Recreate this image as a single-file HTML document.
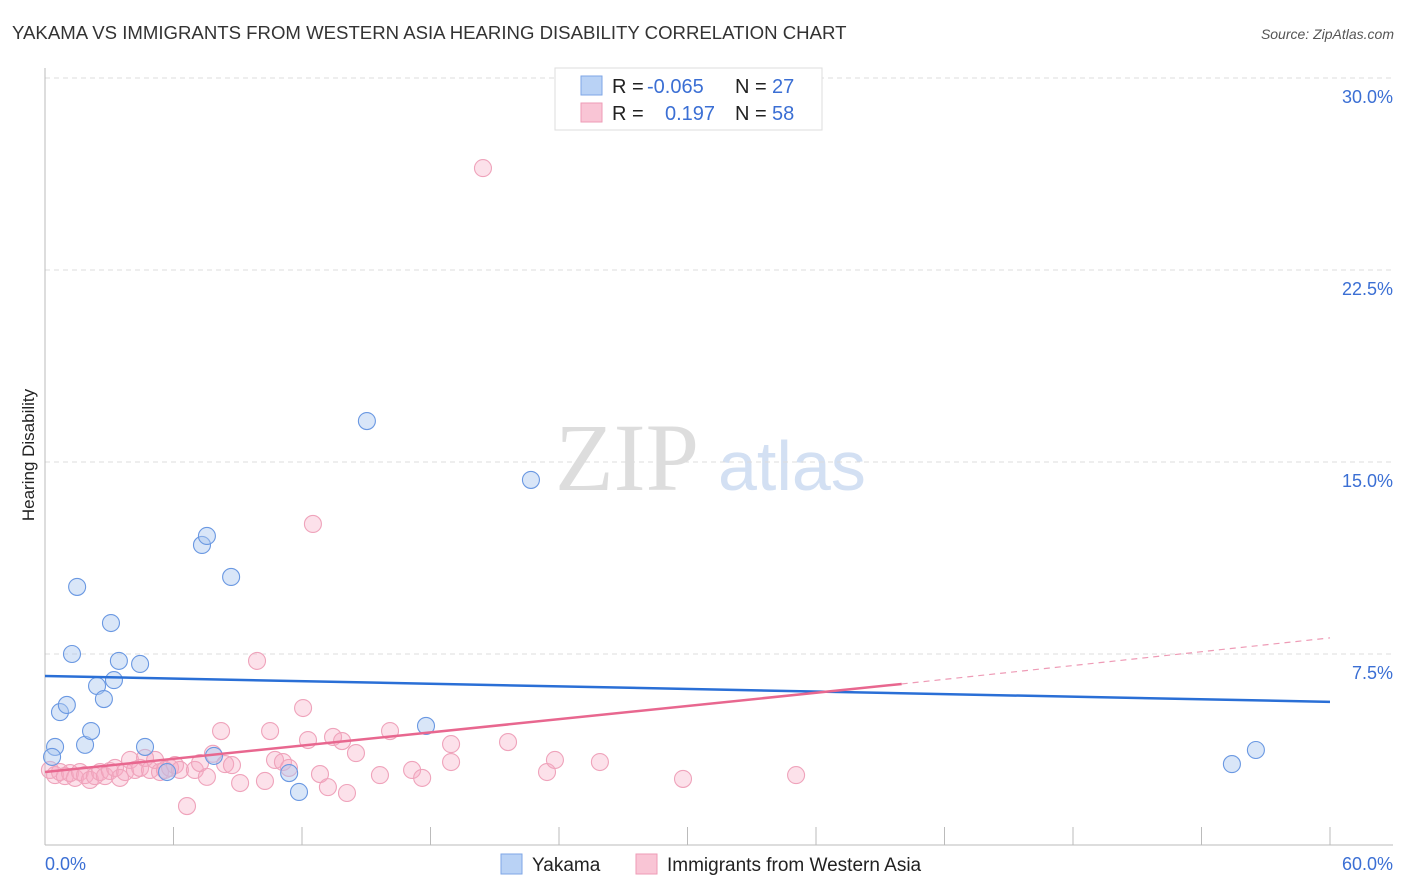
<!DOCTYPE html>
<html><head><meta charset="utf-8"><style>
body{margin:0;background:#fff;font-family:"Liberation Sans",sans-serif}
svg{display:block}
</style></head><body>
<svg id="c" width="1406" height="892">
<text x="12" y="39" font-size="18.6" fill="#333">YAKAMA VS IMMIGRANTS FROM WESTERN ASIA HEARING DISABILITY CORRELATION CHART</text>
<text x="1394" y="39" font-size="14" fill="#555" font-style="italic" text-anchor="end">Source: ZipAtlas.com</text>
<text x="34" y="455" font-size="17" fill="#222" text-anchor="middle" transform="rotate(-90 34 455)">Hearing Disability</text>
<text x="555" y="490" font-size="96" fill="#ddd" font-family="Liberation Serif,serif">ZIP</text>
<text x="718" y="490" font-size="70" fill="#d3e0f3">atlas</text>
<g id="grid"></g><g id="marks"></g>
<g>
<rect x="555" y="68" width="267" height="62" fill="#fff" stroke="#ddd"/>
<rect x="581" y="76" width="21" height="19" fill="#b9d2f5" stroke="#7ea6e6"/>
<rect x="581" y="103" width="21" height="19" fill="#f9c5d5" stroke="#ee9bb6"/>
<text y="93" font-size="20" fill="#222"><tspan x="612">R =</tspan><tspan x="647" fill="#3b6fd4">-0.065</tspan><tspan x="735">N =</tspan><tspan x="772" fill="#3b6fd4">27</tspan></text>
<text y="120" font-size="20" fill="#222"><tspan x="612">R =</tspan><tspan x="665" fill="#3b6fd4">0.197</tspan><tspan x="735">N =</tspan><tspan x="772" fill="#3b6fd4">58</tspan></text>
</g>
<g>
<rect x="501" y="854" width="21" height="20" fill="#b9d2f5" stroke="#7ea6e6"/>
<text x="532" y="871" font-size="19" fill="#222">Yakama</text>
<rect x="636" y="854" width="21" height="20" fill="#f9c5d5" stroke="#ee9bb6"/>
<text x="667" y="871" font-size="19" fill="#222">Immigrants from Western Asia</text>
</g>
</svg>
<script>
const yTicks=[7.5,15,22.5,30];
const xLabels=["0.0%","60.0%"];
const blueX=[0.47,0.33,0.7,1.02,1.26,1.5,1.87,2.15,2.43,2.75,3.08,3.22,3.45,4.44,4.67,5.7,7.33,7.56,7.89,8.69,11.4,11.86,15.03,17.79,22.69,55.42,56.54];
const blueY=[3.87,3.48,5.23,5.51,7.5,10.12,3.95,4.49,6.25,5.74,8.71,6.48,7.23,7.11,3.87,2.89,11.76,12.11,3.52,10.51,2.85,2.11,16.6,4.69,14.3,3.2,3.75];
const pinkX=[0.23,0.47,0.7,0.93,1.17,1.4,1.63,1.87,2.1,2.33,2.57,2.8,3.03,3.27,3.5,3.74,3.97,4.2,4.44,4.67,4.9,5.14,5.37,5.6,5.84,6.07,6.3,6.63,7,7.24,7.56,7.84,8.22,8.41,8.73,9.11,9.9,10.27,10.51,10.74,11.11,11.39,12.05,12.28,12.51,12.84,13.21,13.45,13.87,14.1,14.52,15.64,16.11,17.14,17.61,18.96,18.96,20.45,21.62,23.44,23.81,25.91,29.79,35.07];
const pinkY=[2.97,2.77,2.89,2.73,2.85,2.66,2.89,2.77,2.58,2.73,2.89,2.73,2.93,3.05,2.66,2.89,3.36,2.97,3.05,3.44,2.97,3.36,2.89,2.97,3.05,3.16,2.97,1.56,2.97,3.24,2.7,3.6,4.49,3.2,3.16,2.46,7.23,2.54,4.49,3.36,3.28,3.05,5.39,4.14,12.58,2.81,2.3,4.26,4.1,2.07,3.63,2.77,4.49,2.97,2.66,3.98,3.28,26.48,4.06,2.89,3.36,3.28,2.62,2.77];
const blueLine=[6.64,5.63];
const pinkLine=[2.89,6.33,8.13];
const X=v=>45+v/60*1285, Y=v=>846-v*25.6;
const NS="http://www.w3.org/2000/svg";
function mk(t,a,p){const e=document.createElementNS(NS,t);for(const k in a)e.setAttribute(k,a[k]);p.appendChild(e);return e;}
const g=document.getElementById('grid'),m=document.getElementById('marks');
yTicks.forEach(t=>{
 const l=mk('line',{x1:45,x2:1393,y1:Y(t),y2:Y(t),stroke:'#ddd','stroke-dasharray':'5,4'},g);
 
 
 const tx=mk('text',{x:1393,y:Y(t)+25,'font-size':18,fill:'#3b6fd4','text-anchor':'end'},g);
 tx.textContent=t.toFixed(1)+'%';
 
 
});
const ax=mk('line',{x1:45,x2:1393,y1:845,y2:845,stroke:'#bbb'},g);


const ay=mk('line',{x1:45,x2:45,y1:68,y2:845,stroke:'#bbb'},g);


for(let k=1;k<=10;k++){const t=mk('line',{x1:X(k*6),x2:X(k*6),y1:827,y2:845,stroke:'#bbb'},g);
 
 }
[[45,'start',xLabels[0]],[1393,'end',xLabels[1]]].forEach(([x,a,s])=>{const t=mk('text',{x:x,y:870,'font-size':18,fill:'#3b6fd4','text-anchor':a},g);t.textContent=s;
 
 });
pinkX.forEach((x,i)=>{const c=mk('circle',{cx:X(x),cy:Y(pinkY[i]),r:8.5,fill:'rgba(246,170,195,0.35)',stroke:'#efa3bb','stroke-width':1.1},m);
 
 });
blueX.forEach((x,i)=>{const c=mk('circle',{cx:X(x),cy:Y(blueY[i]),r:8.5,fill:'rgba(170,200,240,0.45)',stroke:'#6a98e2','stroke-width':1.1},m);
 
 });
const bl=mk('line',{x1:X(0),x2:X(60),y1:Y(blueLine[0]),y2:Y(blueLine[1]),stroke:'#2a6fd6','stroke-width':2.5},m);


const pl=mk('line',{x1:X(0),x2:X(40),y1:Y(pinkLine[0]),y2:Y(pinkLine[1]),stroke:'#e8678f','stroke-width':2.5},m);


const pd=mk('line',{x1:X(40),x2:X(60),y1:Y(pinkLine[1]),y2:Y(pinkLine[2]),stroke:'#ee9bb6','stroke-width':1.2,'stroke-dasharray':'6,5'},m);


</script>
</body></html>
